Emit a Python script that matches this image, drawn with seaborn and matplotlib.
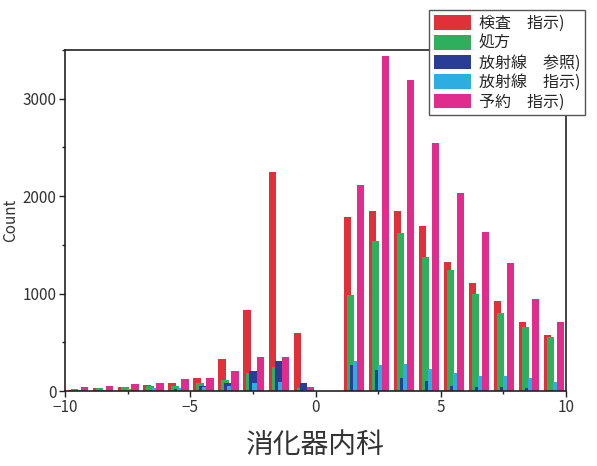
import numpy as np
import pandas as pd
import seaborn as sns
import matplotlib.pyplot as plt
from matplotlib.patches import Patch
from matplotlib.ticker import MultipleLocator

# Bin edges (unit-width bins from -10 to 10) and per-bin counts for each order type
bin_edges = list(range(-10, 11))
bin_centers = [e + 0.5 for e in bin_edges[:-1]]

series_names = ["検査　指示)", "処方", "放射線　参照)", "放射線　指示)", "予約　指示)"]

exam_order = [15, 26, 36, 63, 84, 135, 333, 836, 2245, 597,
              0, 1790, 1845, 1845, 1695, 1325, 1113, 921, 713, 577]
prescription = [22, 30, 43, 50, 56, 86, 108, 183, 244, 28,
                0, 987, 1537, 1626, 1380, 1240, 997, 802, 655, 552]
radiology_ref = [5, 5, 8, 15, 20, 52, 80, 203, 303, 84,
                 0, 262, 217, 135, 101, 56, 46, 39, 26, 10]
radiology_order = [10, 10, 20, 30, 32, 36, 56, 80, 90, 12,
                   0, 313, 262, 279, 228, 183, 156, 156, 131, 97]
appointment = [36, 50, 74, 84, 125, 130, 210, 347, 347, 46,
               0, 2112, 3439, 3189, 2550, 2030, 1636, 1311, 949, 706]

series_values = [exam_order, prescription, radiology_ref, radiology_order, appointment]
colors = ["#e0303a", "#2fae5c", "#2a3d96", "#2eaee0", "#e02c8c"]
# Position of each series' bar inside a bin (fraction of bin width) and bar width
bar_pos = [0.27, 0.39, 0.51, 0.63, 0.79]
bar_width = 0.29

sns.set_theme(style="white")
plt.rcParams["font.family"] = ["Noto Sans CJK JP", "DejaVu Sans"]

fig = plt.figure(figsize=(5.97, 4.66), dpi=100)
ax = fig.add_axes([65 / 597, 1 - 391 / 466, (566 - 65) / 597, (391 - 50) / 466])

for name, vals, col, pos in zip(series_names, series_values, colors, bar_pos):
    df = pd.DataFrame({"x": bin_centers, "n": vals})
    shifted = [float(e) + pos - 0.5 for e in bin_edges]
    sns.histplot(data=df, x="x", weights="n", bins=shifted,
                 shrink=bar_width, color=col, alpha=1, linewidth=0,
                 ax=ax)

ax.set_xlim(-10, 10)
ax.set_ylim(0, 3500)
ax.xaxis.set_major_locator(MultipleLocator(5))
ax.xaxis.set_minor_locator(MultipleLocator(2.5))
ax.yaxis.set_major_locator(MultipleLocator(1000))
ax.yaxis.set_minor_locator(MultipleLocator(500))
ax.tick_params(axis="both", which="major", direction="out", length=4, width=1,
               color="#222222", labelsize=11, labelcolor="#333333", pad=2,
               bottom=True, left=True)
ax.tick_params(axis="both", which="minor", direction="out", length=2.5, width=1,
               color="#222222", bottom=True, left=True)

for sp in ax.spines.values():
    sp.set_visible(True)
    sp.set_color("#222222")
    sp.set_linewidth(1.2)

ax.set_ylabel("Count", fontsize=11, color="#333333")
ax.yaxis.set_label_coords(-0.092, 0.5)
ax.set_xlabel("消化器内科", fontsize=20, color="#333333", labelpad=10)

handles = [Patch(facecolor=c, edgecolor="none", label=n)
           for n, c in zip(series_names, colors)]
leg = ax.legend(handles=handles, loc="upper left",
                bbox_to_anchor=(429 / 597, 1 - 10.5 / 466),
                bbox_transform=fig.transFigure, fontsize=11.5,
                frameon=True, fancybox=False, edgecolor="#555555",
                framealpha=1, borderpad=0.3, borderaxespad=0,
                handlelength=2.35, handleheight=1.05, labelspacing=0.16,
                handletextpad=0.45)
leg.get_frame().set_linewidth(1.0)
leg.set_zorder(10)

fig.savefig("out.png", dpi=100)
